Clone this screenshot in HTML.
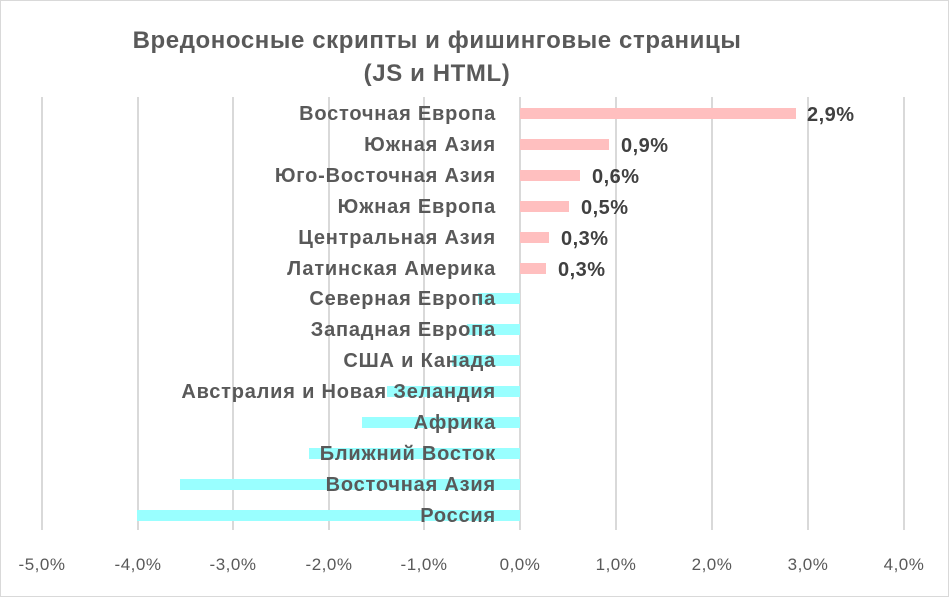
<!DOCTYPE html><html><head><meta charset="utf-8"><style>
body{margin:0;background:#fff}
svg{display:block;font-family:"Liberation Sans",sans-serif}
</style></head><body>
<svg width="949" height="597" viewBox="0 0 949 597">
<rect x="0.5" y="0.5" width="948" height="596" fill="#fff" stroke="#d9d9d9"/>
<text x="437" y="48" text-anchor="middle" font-size="24" font-weight="bold" fill="#595959" letter-spacing="0.6">Вредоносные скрипты и фишинговые страницы</text>
<text x="437" y="81" text-anchor="middle" font-size="24" font-weight="bold" fill="#595959" letter-spacing="0.6">(JS и HTML)</text>
<g stroke="#d9d9d9" stroke-width="2">
<line x1="42" y1="97" x2="42" y2="530"/><line x1="138" y1="97" x2="138" y2="530"/><line x1="233" y1="97" x2="233" y2="530"/><line x1="329" y1="97" x2="329" y2="530"/><line x1="424" y1="97" x2="424" y2="530"/><line x1="520" y1="97" x2="520" y2="530"/><line x1="616" y1="97" x2="616" y2="530"/><line x1="712" y1="97" x2="712" y2="530"/><line x1="808" y1="97" x2="808" y2="530"/><line x1="904" y1="97" x2="904" y2="530"/>
</g>
<g fill="#ffbfbf">
<rect x="520" y="108" width="276" height="11"/><rect x="520" y="139" width="89" height="11"/><rect x="520" y="170" width="60" height="11"/><rect x="520" y="201" width="49" height="11"/><rect x="520" y="232" width="29" height="11"/><rect x="520" y="263" width="26" height="11"/>
</g>
<g fill="#99ffff">
<rect x="478" y="293" width="42" height="11"/><rect x="467" y="324" width="53" height="11"/><rect x="452" y="355" width="68" height="11"/><rect x="387" y="386" width="133" height="11"/><rect x="362" y="417" width="158" height="11"/><rect x="309" y="448" width="211" height="11"/><rect x="180" y="479" width="340" height="11"/><rect x="137" y="510" width="383" height="11"/>
</g>
<g font-size="20" font-weight="bold" fill="#595959" text-anchor="end" letter-spacing="0.8">
<text x="496" y="120">Восточная Европа</text><text x="496" y="151">Южная Азия</text><text x="496" y="182">Юго-Восточная Азия</text><text x="496" y="213">Южная Европа</text><text x="496" y="244">Центральная Азия</text><text x="496" y="275">Латинская Америка</text><text x="496" y="305">Северная Европа</text><text x="496" y="336">Западная Европа</text><text x="496" y="367">США и Канада</text><text x="496" y="398">Австралия и Новая Зеландия</text><text x="496" y="429">Африка</text><text x="496" y="460">Ближний Восток</text><text x="496" y="491">Восточная Азия</text><text x="496" y="522">Россия</text>
</g>
<g font-size="20" font-weight="bold" fill="#404040" letter-spacing="0.5">
<text x="807" y="121">2,9%</text><text x="621" y="152">0,9%</text><text x="592" y="183">0,6%</text><text x="581" y="214">0,5%</text><text x="561" y="245">0,3%</text><text x="558" y="276">0,3%</text>
</g>
<g font-size="17" fill="#595959" text-anchor="middle" letter-spacing="0.5">
<text x="42" y="570">-5,0%</text><text x="138" y="570">-4,0%</text><text x="233" y="570">-3,0%</text><text x="329" y="570">-2,0%</text><text x="424" y="570">-1,0%</text><text x="520" y="570">0,0%</text><text x="616" y="570">1,0%</text><text x="712" y="570">2,0%</text><text x="808" y="570">3,0%</text><text x="904" y="570">4,0%</text>
</g>
</svg>
</body></html>
